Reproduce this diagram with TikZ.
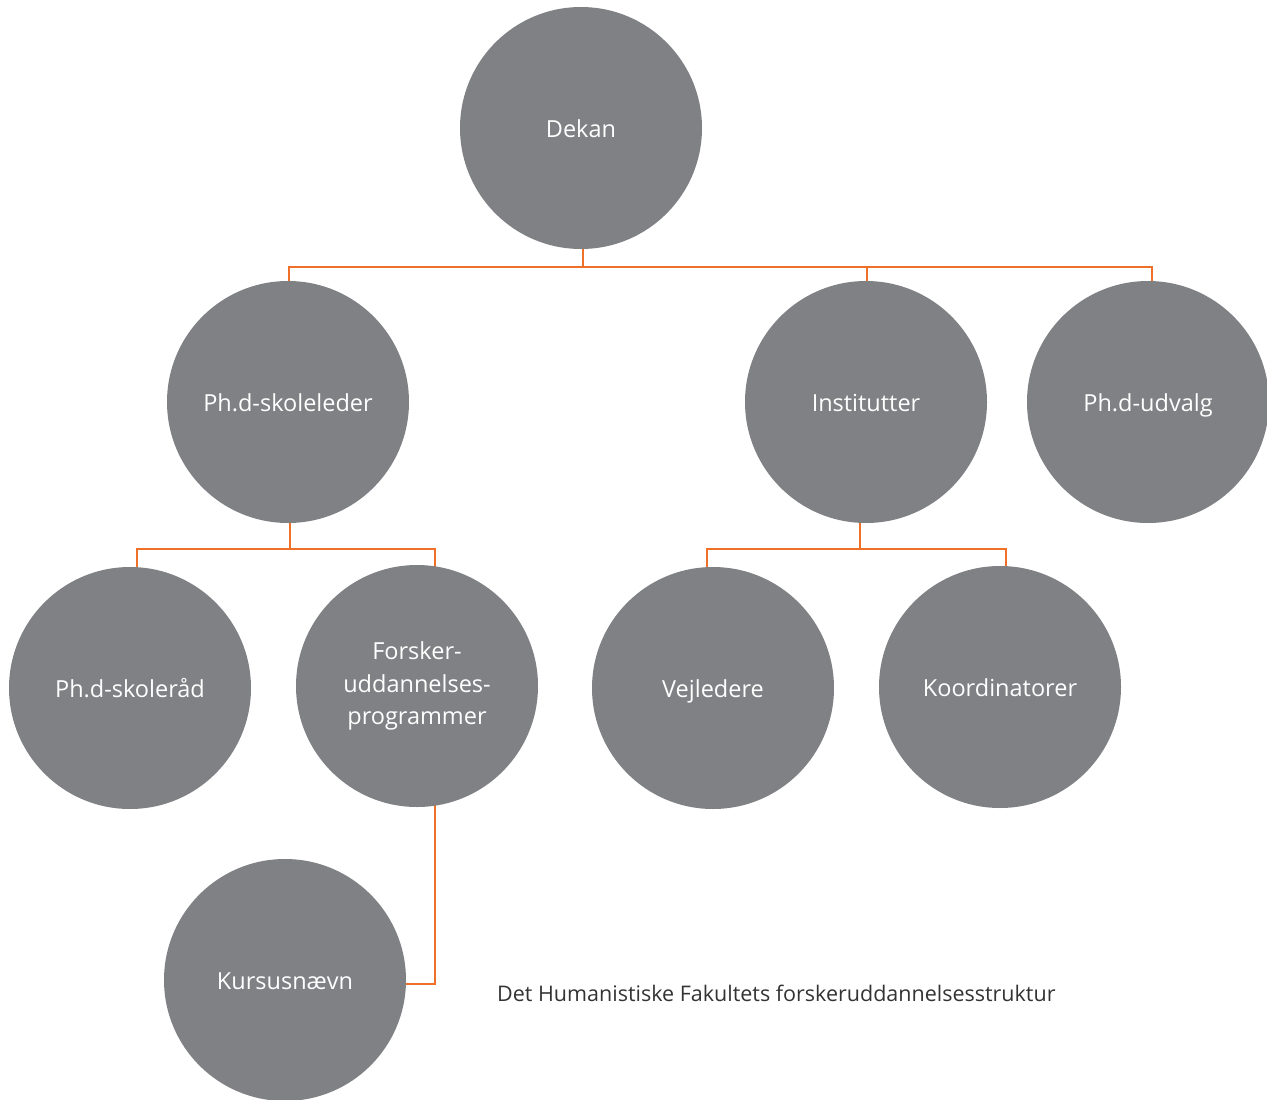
\documentclass[tikz,border=0pt]{standalone}
\usepackage{fontspec}
\setmainfont{Open Sans}
\usetikzlibrary{backgrounds}
\definecolor{circgray}{HTML}{808184}
\definecolor{connorange}{HTML}{F07028}
\definecolor{captgray}{HTML}{333333}
\begin{document}
\begin{tikzpicture}[x=1pt,y=-1pt,
  orgcircle/.style={circle,fill=circgray,draw=none,minimum size=242pt,inner sep=0pt,
    text=white,font=\fontsize{23.5}{32.5}\selectfont,align=center},
  oneline/.style={text height=21pt,text depth=2pt},
  conn/.style={draw=connorange,line width=2.6pt}]
\useasboundingbox (0,0) rectangle (1267,1100);
\clip (0,0) rectangle (1267,1100);
\node[orgcircle,oneline] (dekan) at (581,128) {Dekan};
\node[orgcircle,oneline] (skoleleder) at (288,402) {Ph.d-skoleleder};
\node[orgcircle,oneline] (institutter) at (866,402) {Institutter};
\node[orgcircle,oneline] (udvalg) at (1148,402) {Ph.d-udvalg};
\node[orgcircle,oneline] (skoleraad) at (130,688) {Ph.d-skoleråd};
\node[orgcircle] (forsker) at (417,686) {Forsker-\\uddannelses-\\programmer};
\node[orgcircle,oneline] (vejledere) at (713,688) {Vejledere};
\node[orgcircle,oneline] (koord) at (1000,687) {Koordinatorer};
\node[orgcircle,oneline] (kursus) at (285,980) {Kursusnævn};
\node[text=captgray,font=\fontsize{21.5}{26}\selectfont,anchor=west,inner sep=0pt] (caption) at (497,993) {Det Humanistiske Fakultets forskeruddannelsesstruktur};
\begin{pgfonlayer}{background}
\coordinate (bustop) at (583,267);
\coordinate (busleft) at (290,549);
\coordinate (busright) at (860,549);
\draw[conn] ([xshift=2pt]dekan.center) -- (bustop);
\draw[conn] ([xshift=1pt]skoleleder.center) |- (bustop) -| ([xshift=4pt]udvalg.center);
\draw[conn] (bustop) -| ([xshift=1pt]institutter.center);
\draw[conn] ([xshift=2pt]skoleleder.center) -- (busleft);
\draw[conn] ([xshift=7pt]skoleraad.center) |- (busleft) -| ([xshift=18pt]forsker.center);
\draw[conn] ([xshift=-6pt]institutter.center) -- (busright);
\draw[conn] ([xshift=-6pt]vejledere.center) |- (busright) -| ([xshift=6pt]koord.center);
\draw[conn] ([xshift=18pt]forsker.center) |- ([yshift=-4pt]kursus.center);
\end{pgfonlayer}
\end{tikzpicture}
\end{document}
